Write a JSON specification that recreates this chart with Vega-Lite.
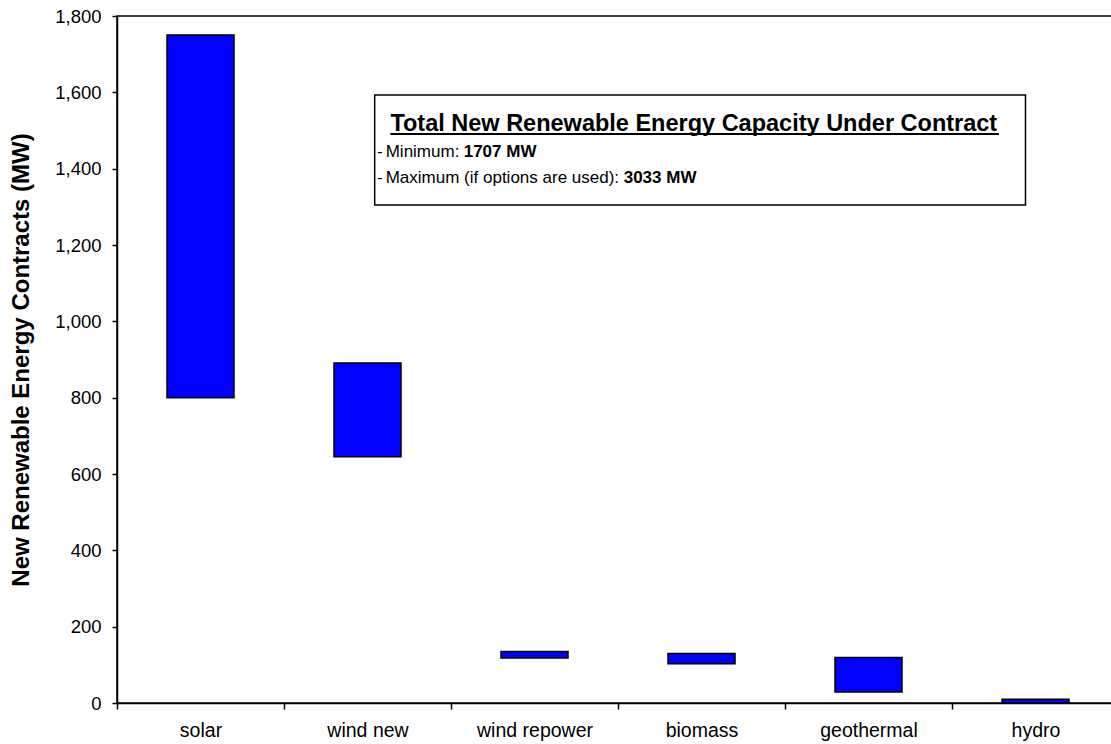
{
  "$schema": "https://vega.github.io/schema/vega-lite/v6.json",
  "width": 1002,
  "height": 687,
  "autosize": "none",
  "padding": {"left": 117, "top": 16, "right": 0, "bottom": 41},
  "background": "white",
  "config": {
    "view": {"stroke": "black", "strokeWidth": 1.5},
    "font": "Liberation Sans"
  },
  "layer": [
    {
      "data": {
        "values": [
          {"source": "solar", "low": 800, "high": 1750},
          {"source": "wind new", "low": 645, "high": 891},
          {"source": "wind repower", "low": 118, "high": 135},
          {"source": "biomass", "low": 103, "high": 130},
          {"source": "geothermal", "low": 29, "high": 119},
          {"source": "hydro", "low": 0, "high": 10}
        ]
      },
      "mark": {"type": "bar", "size": 67, "fill": "#0000FF", "stroke": "black", "strokeWidth": 1.5},
      "encoding": {
        "x": {
          "field": "source", "type": "nominal", "sort": null,
          "scale": {"paddingInner": 0, "paddingOuter": 0},
          "axis": {"title": null, "labelAngle": 0, "labelFontSize": 19.5, "labelColor": "black", "labelFont": "Liberation Sans",
                   "tickBand": "extent", "tickSize": 6, "tickColor": "black", "tickWidth": 1.5,
                   "domainColor": "black", "domainWidth": 1.5, "labelPadding": 12}
        },
        "y": {
          "field": "low", "type": "quantitative",
          "scale": {"domain": [0, 1800], "nice": false},
          "axis": {"title": "New Renewable Energy Contracts (MW)", "titleFontSize": 24, "titleFontWeight": "bold", "titleColor": "black", "titleFont": "Liberation Sans",
                   "titlePadding": 21, "values": [0, 200, 400, 600, 800, 1000, 1200, 1400, 1600, 1800], "format": ",.0f",
                   "labelFontSize": 18.5, "labelColor": "black", "labelFont": "Liberation Sans", "tickSize": 5, "tickColor": "black", "tickWidth": 1.5,
                   "domainColor": "black", "domainWidth": 1.5, "labelPadding": 11, "grid": false}
        },
        "y2": {"field": "high"}
      }
    },
    {
      "data": {"values": [{}]},
      "layer": [
        {
          "mark": {"type": "rect", "fill": "white", "stroke": "black", "strokeWidth": 1.5},
          "encoding": {
            "x": {"datum": 1.543, "type": "quantitative", "scale": {"domain": [0, 6], "nice": false, "zero": false}, "axis": null},
            "x2": {"datum": 5.44},
            "y": {"datum": 1593, "type": "quantitative"},
            "y2": {"datum": 1305}
          }
        },
        {
          "mark": {"type": "text", "text": "Total New Renewable Energy Capacity Under Contract", "align": "left", "baseline": "alphabetic", "fontSize": 23.5, "fontWeight": "bold", "color": "black", "font": "Liberation Sans"},
          "encoding": {
            "x": {"datum": 1.637, "type": "quantitative", "axis": null},
            "y": {"datum": 1500, "type": "quantitative"}
          }
        },
        {
          "mark": {"type": "rule", "stroke": "black", "strokeWidth": 2},
          "encoding": {
            "x": {"datum": 1.637, "type": "quantitative", "axis": null},
            "x2": {"datum": 5.281},
            "y": {"datum": 1491, "type": "quantitative"}
          }
        },
        {
          "mark": {"type": "text", "text": "-", "align": "left", "baseline": "alphabetic", "fontSize": 17, "color": "black", "font": "Liberation Sans"},
          "encoding": {
            "x": {"datum": 1.557, "type": "quantitative", "axis": null},
            "y": {"datum": 1430, "type": "quantitative"}
          }
        },
        {
          "mark": {"type": "text", "text": "Minimum:", "align": "left", "baseline": "alphabetic", "fontSize": 17, "color": "black", "font": "Liberation Sans"},
          "encoding": {
            "x": {"datum": 1.609, "type": "quantitative", "axis": null},
            "y": {"datum": 1430, "type": "quantitative"}
          }
        },
        {
          "mark": {"type": "text", "text": "1707 MW", "align": "left", "baseline": "alphabetic", "fontSize": 17, "fontWeight": "bold", "color": "black", "font": "Liberation Sans"},
          "encoding": {
            "x": {"datum": 2.076, "type": "quantitative", "axis": null},
            "y": {"datum": 1430, "type": "quantitative"}
          }
        },
        {
          "mark": {"type": "text", "text": "-", "align": "left", "baseline": "alphabetic", "fontSize": 17, "color": "black", "font": "Liberation Sans"},
          "encoding": {
            "x": {"datum": 1.557, "type": "quantitative", "axis": null},
            "y": {"datum": 1362, "type": "quantitative"}
          }
        },
        {
          "mark": {"type": "text", "text": "Maximum (if options are used):", "align": "left", "baseline": "alphabetic", "fontSize": 17, "color": "black", "font": "Liberation Sans"},
          "encoding": {
            "x": {"datum": 1.609, "type": "quantitative", "axis": null},
            "y": {"datum": 1362, "type": "quantitative"}
          }
        },
        {
          "mark": {"type": "text", "text": "3033 MW", "align": "left", "baseline": "alphabetic", "fontSize": 17, "fontWeight": "bold", "color": "black", "font": "Liberation Sans"},
          "encoding": {
            "x": {"datum": 3.034, "type": "quantitative", "axis": null},
            "y": {"datum": 1362, "type": "quantitative"}
          }
        }
      ]
    }
  ],
  "resolve": {"scale": {"x": "independent"}, "axis": {"x": "independent"}}
}
